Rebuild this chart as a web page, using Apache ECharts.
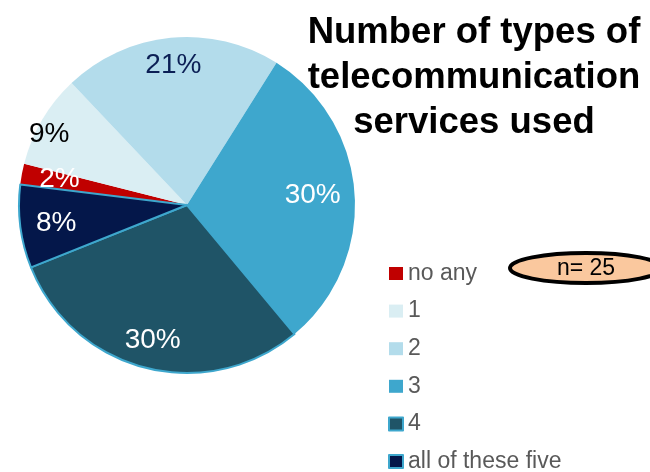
<!DOCTYPE html>
<html>
<head>
<meta charset="utf-8">
<script src="https://cdn.jsdelivr.net/npm/echarts@6/dist/echarts.min.js"></script>
<style>
  html, body { margin: 0; padding: 0; background: #fff; }
  #chart { width: 650px; height: 472px; }
</style>
</head>
<body>
<div id="chart"></div>
<script>
// Share of respondents by number of telecommunication service types used
const categories = ['no any', '1', '2', '3', '4', 'all of these five'];
const shares = [2, 9, 21, 30, 30, 8];
const sliceColors = ['#C00000', '#DAEEF3', '#B3DCEB', '#3EA7CD', '#1F5467', '#04174A'];
const labelColors = ['#FFFFFF', '#000000', '#0B1F55', '#FFFFFF', '#FFFFFF', '#FFFFFF'];
const sampleNote = 'n= 25';

const font = '"Liberation Sans", Arial, sans-serif';
const outlined = new Set(['4', 'all of these five']);

// Padding used to nudge a few percentage labels off the common label ring
const labelPadding = {
  'no any': [8, 0, 0, 20],
  '1': [22, 34, 0, 0],
  '3': [0, 28, 0, 0],
  'all of these five': [0, 0, 0, 16]
};

const sliceData = categories.map((name, i) => ({
  name,
  value: shares[i],
  itemStyle: outlined.has(name)
    ? { color: sliceColors[i], borderColor: '#3EA7CD', borderWidth: 2 }
    : { color: sliceColors[i], borderWidth: 0 }
}));

// Transparent ring carrying the percentage labels further out than the pie midpoint
const labelData = categories.map((name, i) => ({
  name,
  value: shares[i],
  label: { color: labelColors[i], padding: labelPadding[name] || 0 }
}));

const chart = echarts.init(document.getElementById('chart'), null, { renderer: 'canvas' });
chart.setOption({
  animation: false,
  backgroundColor: '#ffffff',
  title: {
    text: 'Number of types of\ntelecommunication\nservices used',
    left: 469,
    top: 5,
    textAlign: 'center',
    textStyle: {
      fontFamily: font,
      fontSize: 36.5,
      fontWeight: 'bold',
      lineHeight: 45,
      color: '#000000'
    }
  },
  legend: {
    orient: 'vertical',
    left: 383,
    top: 257,
    height: 240,
    itemWidth: 14,
    itemHeight: 13,
    itemGap: 14.6,
    icon: 'rect',
    data: categories,
    selectedMode: false,
    textStyle: {
      fontFamily: font,
      fontSize: 23,
      lineHeight: 22,
      color: '#595959'
    }
  },
  series: [
    {
      type: 'pie',
      center: [187, 205],
      radius: [0, 168],
      startAngle: 173,
      clockwise: true,
      silent: true,
      label: { show: false },
      labelLine: { show: false },
      data: sliceData
    },
    {
      type: 'pie',
      center: [187, 205],
      radius: [106, 168],
      startAngle: 173,
      clockwise: true,
      silent: true,
      itemStyle: { color: 'rgba(0,0,0,0)', borderWidth: 0 },
      label: {
        show: true,
        position: 'inside',
        formatter: '{c}%',
        fontFamily: font,
        fontSize: 28,
        textBorderWidth: 0
      },
      labelLine: { show: false },
      data: labelData
    }
  ],
  graphic: [
    {
      type: 'ellipse',
      shape: { cx: 586, cy: 268, rx: 76, ry: 15 },
      style: { fill: '#FAC89E', stroke: '#000000', lineWidth: 4 },
      z: 10
    },
    {
      type: 'text',
      x: 586,
      y: 269,
      style: {
        text: sampleNote,
        fontFamily: font,
        fontSize: 23,
        fill: '#000000',
        align: 'center',
        verticalAlign: 'middle'
      },
      z: 11
    }
  ]
});
</script>
</body>
</html>
